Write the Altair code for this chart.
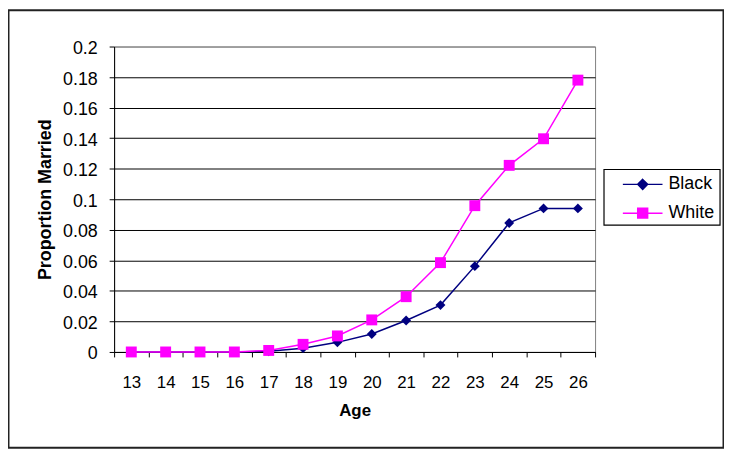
import altair as alt
import pandas as pd

# ---- data ----
ages = [13, 14, 15, 16, 17, 18, 19, 20, 21, 22, 23, 24, 25, 26]
black = [0.0, 0.0, 0.0, 0.0, 0.0005, 0.0025, 0.0063, 0.0118, 0.0206, 0.0307, 0.0562, 0.0845, 0.0940, 0.0940]
white = [0.0, 0.0, 0.0, 0.0, 0.0010, 0.0050, 0.0105, 0.0210, 0.0362, 0.0585, 0.0958, 0.1222, 0.1396, 0.1780]
series_names = ["Black", "White"]
series_colors = ["#000080", "#FF00FF"]
series_shapes = ["diamond", "square"]
series_sizes = [100, 121]
y_ticks = [0, 0.02, 0.04, 0.06, 0.08, 0.1, 0.12, 0.14, 0.16, 0.18, 0.2]

# legend symbols: line segment + marker (custom paths)
legend_paths = [
    "M-2,0L2,0M0,-0.5L0.5,0L0,0.5L-0.5,0Z",
    "M-2,0L2,0M-0.5,-0.5L0.5,-0.5L0.5,0.5L-0.5,0.5Z",
]

rows = []
for name, vals in zip(series_names, [black, white]):
    for a, v in zip(ages, vals):
        rows.append({"Age": a, "Proportion": v, "Series": name})
df = pd.DataFrame(rows)

FONT = "Liberation Sans"

x_enc = alt.X(
    "Age:O",
    scale=alt.Scale(type="band", paddingInner=0, paddingOuter=0),
    axis=alt.Axis(
        title="Age", labelAngle=0, tickBand="extent", tickSize=5, tickColor="black",
        domainColor="black", labelFont=FONT, labelFontSize=17, labelColor="black",
        labelPadding=18, titleFont=FONT, titleFontSize=17, titleFontWeight="bold",
        titleColor="black", titleBaseline="alphabetic", titleX=242.5, titleY=64,
        grid=False,
    ),
)
y_enc = alt.Y(
    "Proportion:Q",
    scale=alt.Scale(domain=[0, 0.2], nice=False, zero=True),
    axis=alt.Axis(
        title="Proportion Married", values=y_ticks, format=".2~f", grid=True,
        gridColor={"condition": {"test": "datum.value >= 0.199", "value": "#808080"}, "value": "black"},
        gridWidth=1, tickSize=5, tickColor="black", domainColor="black",
        labelFont=FONT, labelFontSize=18, labelColor="black", labelPadding=12,
        labelOffset=2, titleFont=FONT, titleFontSize=18, titleFontWeight="bold",
        titleColor="black", titleAngle=270, titleBaseline="alphabetic",
        titleX=-64, titleY=154,
    ),
)

one = pd.DataFrame({"k": [0]})

frame = alt.Chart(one).mark_rect(filled=False, stroke="#222222", strokeWidth=2).encode(
    x=alt.value(-106.5), x2=alt.value(614.5), y=alt.value(-36.5), y2=alt.value(404.5)
)
legend_box = alt.Chart(one).mark_rect(filled=False, stroke="black", strokeWidth=1.2).encode(
    x=alt.value(494), x2=alt.value(611), y=alt.value(124), y2=alt.value(180)
)

layers = [frame, legend_box]
for name, col, shp, sz in zip(series_names, series_colors, series_shapes, series_sizes):
    sub = df[df["Series"] == name]
    layers.append(alt.Chart(sub).mark_line(color=col, strokeWidth=1.5).encode(x=x_enc, y=y_enc))
    layers.append(
        alt.Chart(sub).mark_point(filled=True, shape=shp, size=sz, color=col, opacity=1).encode(x=x_enc, y=y_enc)
    )

leg = dict(
    title=None, orient="none", legendX=522, legendY=128, symbolSize=400,
    symbolStrokeWidth=1.5, symbolOpacity=1, labelFont=FONT, labelFontSize=18,
    labelColor="black", labelOffset=15, rowPadding=9, padding=0,
)
legend_layer = alt.Chart(df).transform_filter("false").mark_point(filled=True, strokeWidth=1.5, opacity=1).encode(
    x=x_enc,
    y=y_enc,
    fill=alt.Fill("Series:N", scale=alt.Scale(domain=series_names, range=series_colors), legend=alt.Legend(**leg)),
    stroke=alt.Stroke("Series:N", scale=alt.Scale(domain=series_names, range=series_colors), legend=alt.Legend(**leg)),
    shape=alt.Shape("Series:N", scale=alt.Scale(domain=series_names, range=legend_paths), legend=alt.Legend(**leg)),
)
layers.append(legend_layer)

chart = alt.layer(*layers).properties(
    width=485, height=308,
    padding={"left": 107, "top": 37, "right": 130, "bottom": 97},
    autosize=alt.AutoSizeParams(type="none"),
    background="white",
).configure_view(stroke="#808080", strokeWidth=1)

chart.save("out.html", embed_options={"renderer": "svg", "actions": False})
